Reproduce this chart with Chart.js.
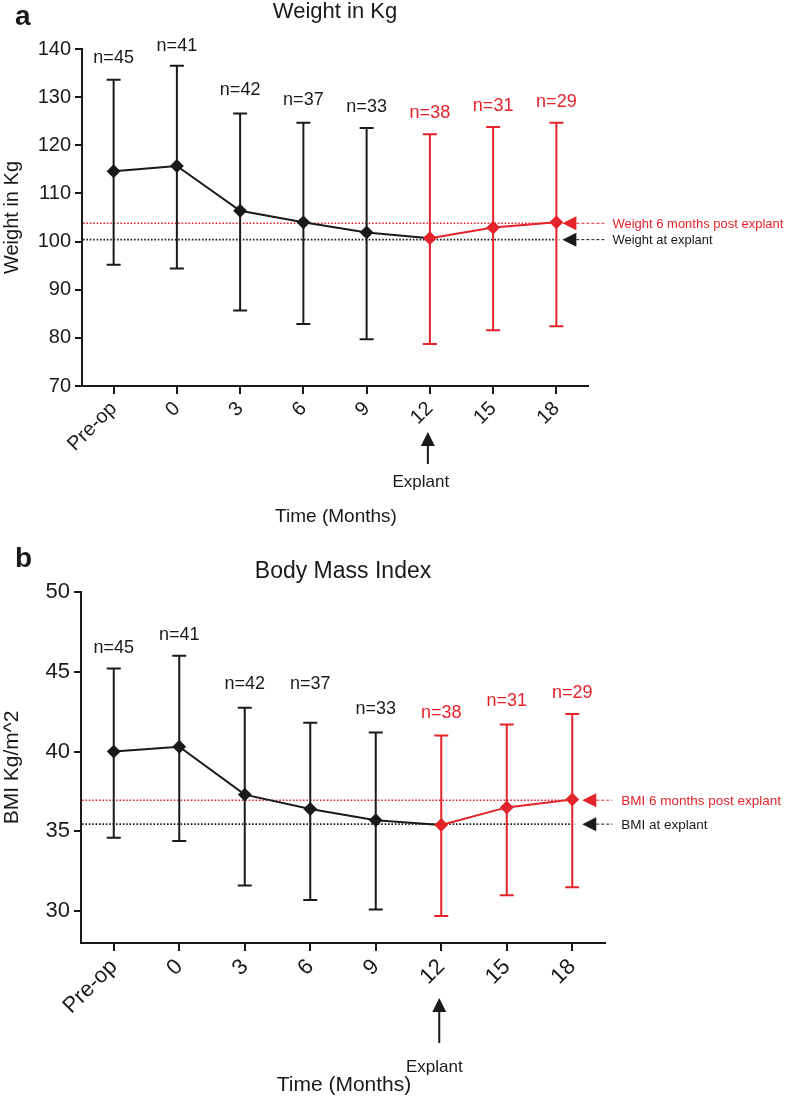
<!DOCTYPE html>
<html lang="en">
<head>
<meta charset="UTF-8" />
<title>Weight and BMI after explant</title>
<script src="https://cdn.jsdelivr.net/npm/chart.js"></script>
<style>
  body { margin: 0; background: #fff; }
  .panel { position: absolute; left: 0; width: 788px; }
  #panelA { top: 0; height: 540px; }
  #panelB { top: 540px; height: 558px; }
</style>
</head>
<body>
<div class="panel" id="panelA"><canvas id="chartWeight"></canvas></div>
<div class="panel" id="panelB"><canvas id="chartBmi"></canvas></div>

<script>
// categories (months after operation)
const months = ['Pre-op', '0', '3', '6', '9', '12', '15', '18'];
const explantMonth = '12';
const patientsN = [45, 41, 42, 37, 33, 38, 31, 29];

// weight (kg): mean and error bar ends
const weightMean  = [114.6, 115.7, 106.4, 104.0, 101.9, 100.7, 102.9, 104.0];
const weightUpper = [133.6, 136.5, 126.6, 124.7, 123.6, 122.3, 123.8, 124.7];
const weightLower = [95.2, 94.4, 85.7, 82.9, 79.7, 78.7, 81.6, 82.4];
const weightTicks = [70, 80, 90, 100, 110, 120, 130, 140];
const weightRange = [70, 140];
const weightAtExplant = 100.4;
const weightPostExplant = 103.8;

// BMI (kg/m^2)
const bmiMean  = [40.0, 40.3, 37.3, 36.4, 35.7, 35.4, 36.5, 37.0];
const bmiUpper = [45.2, 46.0, 42.75, 41.8, 41.2, 41.0, 41.7, 42.35];
const bmiLower = [34.6, 34.4, 31.6, 30.7, 30.1, 29.7, 31.0, 31.5];
const bmiTicks = [30, 35, 40, 45, 50];
const bmiRange = [28, 50];
const bmiAtExplant = 35.45;
const bmiPostExplant = 36.95;

const FONT = "'Liberation Sans', Arial, sans-serif";
const INK = '#1a1a1a';
const RED = '#e4232b';
const explantIdx = months.indexOf(explantMonth);
const colorAt = i => (i >= explantIdx ? RED : INK);

const decor = {
  id: 'decor',
  beforeDatasetsDraw(chart, args, o) {
    const { ctx, chartArea: a, scales: { x, y } } = chart;
    const lastX = x.getPixelForValue(months.length - 1);
    ctx.save();
    // dotted reference lines
    o.refLines.forEach(r => {
      const py = y.getPixelForValue(r.value);
      ctx.strokeStyle = r.color;
      ctx.lineWidth = 1.6;
      ctx.setLineDash([1.6, 1.8]);
      ctx.beginPath();
      ctx.moveTo(a.left + 1, py);
      ctx.lineTo(lastX + 3, py);
      ctx.stroke();
    });
    ctx.setLineDash([]);
    // error bars and n labels
    o.upper.forEach((hi, i) => {
      const px = x.getPixelForValue(i);
      const top = y.getPixelForValue(hi);
      const bot = y.getPixelForValue(o.lower[i]);
      ctx.strokeStyle = colorAt(i);
      ctx.lineWidth = 2;
      ctx.beginPath();
      ctx.moveTo(px, top); ctx.lineTo(px, bot);
      ctx.moveTo(px - 7, top); ctx.lineTo(px + 7, top);
      ctx.moveTo(px - 7, bot); ctx.lineTo(px + 7, bot);
      ctx.stroke();
      ctx.fillStyle = colorAt(i);
      ctx.font = '18px ' + FONT;
      ctx.textAlign = 'center';
      ctx.textBaseline = 'middle';
      ctx.fillText('n=' + patientsN[i], px, top - o.nLift[i]);
    });
    ctx.restore();
  },
  afterDraw(chart, args, o) {
    const { ctx, chartArea: a, scales: { x, y } } = chart;
    const lastX = x.getPixelForValue(months.length - 1);
    ctx.save();
    ctx.fillStyle = INK;
    // panel letter and title
    ctx.textBaseline = 'alphabetic';
    ctx.textAlign = 'left';
    ctx.font = 'bold 28px ' + FONT;
    ctx.fillText(o.letter, 15, o.letterY);
    ctx.textAlign = 'center';
    ctx.font = o.titleSize + 'px ' + FONT;
    ctx.fillText(o.title, (a.left + a.right) / 2, o.titleY);

    // labelled arrows at the right
    o.refLines.forEach(r => {
      const py = y.getPixelForValue(r.value);
      const tip = lastX + o.note.gap;
      ctx.fillStyle = r.color;
      ctx.beginPath();
      ctx.moveTo(tip, py);
      ctx.lineTo(tip + 14, py - 7);
      ctx.lineTo(tip + 14, py + 7);
      ctx.closePath();
      ctx.fill();
      ctx.strokeStyle = r.color;
      ctx.lineWidth = 1;
      ctx.setLineDash([3, 2]);
      ctx.beginPath();
      ctx.moveTo(tip + 14, py);
      ctx.lineTo(tip + o.note.dash, py);
      ctx.stroke();
      ctx.setLineDash([]);
      ctx.font = o.note.size + 'px ' + FONT;
      ctx.textAlign = 'left';
      ctx.textBaseline = 'middle';
      ctx.fillText(r.label, tip + o.note.text, py + 1);
    });

    // explant arrow under the axis
    const ex = x.getPixelForValue(explantIdx) - 2;
    const tipY = a.bottom + o.explant.tip;
    ctx.fillStyle = INK;
    ctx.strokeStyle = INK;
    ctx.lineWidth = 2;
    ctx.beginPath();
    ctx.moveTo(ex, tipY + 10);
    ctx.lineTo(ex, a.bottom + o.explant.end);
    ctx.stroke();
    ctx.beginPath();
    ctx.moveTo(ex, tipY);
    ctx.lineTo(ex - 7, tipY + 14);
    ctx.lineTo(ex + 7, tipY + 14);
    ctx.closePath();
    ctx.fill();
    ctx.font = '17px ' + FONT;
    ctx.textAlign = 'center';
    ctx.textBaseline = 'middle';
    ctx.fillText('Explant', ex - o.explant.shift, a.bottom + o.explant.label);

    // x axis title
    ctx.font = o.xTitleSize + 'px ' + FONT;
    ctx.fillText('Time (Months)', (a.left + a.right) / 2 + 1, a.bottom + o.xTitleDy);
    ctx.restore();
  }
};

function makeChart(id, cfg) {
  return new Chart(document.getElementById(id), {
    type: 'line',
    data: {
      labels: months,
      datasets: [{
        data: cfg.mean,
        borderWidth: 2,
        borderColor: INK,
        segment: { borderColor: s => colorAt(s.p0DataIndex) },
        pointStyle: 'rectRot',
        pointRadius: 5.5,
        pointHoverRadius: 5.5,
        pointBackgroundColor: months.map((m, i) => colorAt(i)),
        pointBorderColor: months.map((m, i) => colorAt(i)),
        tension: 0
      }]
    },
    options: {
      responsive: true,
      maintainAspectRatio: false,
      animation: false,
      events: [],
      layout: { padding: { left: 0, top: cfg.top, right: cfg.right, bottom: 0 } },
      scales: {
        x: {
          type: 'category',
          offset: true,
          afterFit: s => { s.height = cfg.xHeight; },
          border: { color: INK, width: 2 },
          grid: { drawOnChartArea: false, color: INK, lineWidth: 2, tickLength: 8 },
          ticks: { color: INK, font: { family: FONT, size: cfg.tickSize }, minRotation: 45, maxRotation: 45, autoSkip: false, padding: 3 }
        },
        y: {
          min: cfg.range[0],
          max: cfg.range[1],
          afterBuildTicks: s => { s.ticks = cfg.ticks.map(v => ({ value: v })); },
          afterFit: s => { s.width = cfg.left; },
          border: { color: INK, width: 2 },
          grid: { drawOnChartArea: false, color: INK, lineWidth: 2, tickLength: 7 },
          ticks: { color: INK, font: { family: FONT, size: cfg.tickSize }, padding: 4 },
          title: { display: true, text: cfg.yTitle, color: INK, font: { family: FONT, size: cfg.yTitleSize }, padding: 0 }
        }
      },
      plugins: {
        legend: { display: false },
        tooltip: { enabled: false },
        decor: cfg.decor
      }
    },
    plugins: [decor]
  });
}

makeChart('chartWeight', {
  mean: weightMean, ticks: weightTicks, range: weightRange, yTitle: 'Weight in Kg',
  top: 49, right: 200, left: 82, xHeight: 154, tickSize: 20, yTitleSize: 20,
  decor: {
    letter: 'a', letterY: 25, title: 'Weight in Kg', titleY: 18, titleSize: 22,
    upper: weightUpper, lower: weightLower,
    nLift: [22, 20, 23, 23, 21, 21, 21, 21],
    refLines: [
      { value: weightPostExplant, color: RED, label: 'Weight 6 months post explant' },
      { value: weightAtExplant, color: INK, label: 'Weight at explant' }
    ],
    note: { gap: 6, dash: 44, text: 50, size: 13 },
    explant: { tip: 46, end: 78, label: 96, shift: 7 },
    xTitleSize: 19, xTitleDy: 131
  }
});

makeChart('chartBmi', {
  mean: bmiMean, ticks: bmiTicks, range: bmiRange, yTitle: 'BMI Kg/m^2',
  top: 52, right: 183, left: 81, xHeight: 155, tickSize: 22, yTitleSize: 21,
  decor: {
    letter: 'b', letterY: 27, title: 'Body Mass Index', titleY: 38, titleSize: 23,
    upper: bmiUpper, lower: bmiLower,
    nLift: [21, 21, 24, 39, 23, 23, 23, 21],
    refLines: [
      { value: bmiPostExplant, color: RED, label: 'BMI 6 months post explant' },
      { value: bmiAtExplant, color: INK, label: 'BMI at explant' }
    ],
    note: { gap: 10, dash: 30, text: 39, size: 13.5 },
    explant: { tip: 55, end: 100, label: 124, shift: 5 },
    xTitleSize: 21, xTitleDy: 142
  }
});
</script>
</body>
</html>
